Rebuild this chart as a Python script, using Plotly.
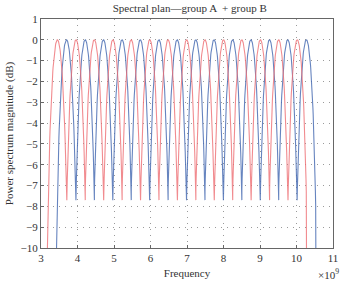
import numpy as np
import plotly.graph_objects as go

# Band centre frequencies (GHz)
group_a_centres = [3.45, 3.96, 4.46, 4.97, 5.47, 5.98, 6.48, 6.99, 7.49, 8.00, 8.50, 9.01, 9.51, 10.02]
group_b_centres = [3.70, 4.21, 4.71, 5.22, 5.72, 6.23, 6.73, 7.24, 7.74, 8.25, 8.75, 9.26, 9.76, 10.27]
dip_level_db = -7.7
x_ticks = [3, 4, 5, 6, 7, 8, 9, 10, 11]
y_ticks = [1, 0, -1, -2, -3, -4, -5, -6, -7, -8, -9, -10]


def spectrum(centres):
    c = np.array(centres)
    period = np.mean(np.diff(c))
    half = period / 2
    theta_edge = np.arccos(np.sqrt(10 ** (dip_level_db / 10)))
    xs, ys = [], []
    for i, ci in enumerate(c):
        lo = -half * (1.4 if i == 0 else 1.0)
        hi = half * (1.4 if i == len(c) - 1 else 1.0)
        u = np.linspace(lo, hi, 81)
        th = np.minimum(np.abs(u) / half * theta_edge, np.pi / 2 * 0.999)
        y = 20 * np.log10(np.maximum(np.cos(th), 1e-6))
        xs.extend((ci + u) * 1e9)
        ys.extend(y)
    return np.array(xs), np.array(ys)


fig = go.Figure()
xa, ya = spectrum(group_a_centres)
xb, yb = spectrum(group_b_centres)
fig.add_trace(go.Scatter(x=xb, y=yb, mode="lines", line=dict(color="rgba(75,110,180,0.85)", width=1.1), showlegend=False))
fig.add_trace(go.Scatter(x=xa, y=ya, mode="lines", line=dict(color="rgba(238,110,115,0.8)", width=1.1), showlegend=False))

font = dict(family="Liberation Serif, Times New Roman, serif", size=11, color="#333")
axis_common = dict(
    showline=True, linecolor="#666", linewidth=1, mirror=True,
    ticks="inside", ticklen=3, tickcolor="#666",
    showgrid=True, gridcolor="#9a9a9a", griddash="1px,5px", gridwidth=1,
    zeroline=False, tickfont=font,
)
fig.update_xaxes(range=[3e9, 11e9], tickvals=[v * 1e9 for v in x_ticks], ticktext=[str(v) for v in x_ticks],
                 title=dict(text="Frequency", font=font, standoff=6), **axis_common)
fig.update_yaxes(range=[-10, 1], tickvals=y_ticks, ticktext=[str(v).replace("-", "\u2212") for v in y_ticks],
                 title=dict(text="Power spectrum magnitude (dB)", font=font, standoff=4), **axis_common)
fig.update_layout(
    width=345, height=285,
    margin=dict(l=41, r=7, t=19, b=35),
    plot_bgcolor="white", paper_bgcolor="white",
    title=dict(text="Spectral plan\u2014group A  + group B", font=font, x=0.55, xanchor="center", y=0.985, yanchor="top"),
    annotations=[dict(text="\u00d710<sup>9</sup>", x=0.985, y=-0.075, xref="paper", yref="paper",
                      xanchor="center", yanchor="top", showarrow=False, font=font)],
)
fig.write_html("out.html")
